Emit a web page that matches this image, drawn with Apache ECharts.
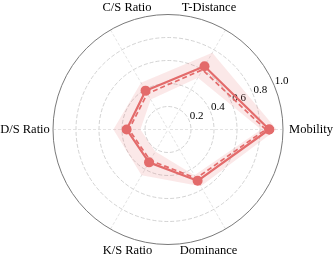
<!DOCTYPE html>
<html><head><meta charset="utf-8">
<script src="https://cdn.jsdelivr.net/npm/echarts@6/dist/echarts.min.js"></script>
<style>html,body{margin:0;padding:0;background:#fff}#c{width:333px;height:260px}</style>
</head><body><div id="c"></div>
<script>
// ---- data ----
const indicators = ['Mobility', 'T-Distance', 'C/S Ratio', 'D/S Ratio', 'K/S Ratio', 'Dominance'];
const meanValues = [0.88, 0.635, 0.39, 0.36, 0.33, 0.515];
const refValues  = [0.85, 0.60, 0.36, 0.34, 0.31, 0.49];
const bandLower  = [0.81, 0.52, 0.30, 0.24, 0.22, 0.46];
const bandUpper  = [0.945, 0.77, 0.47, 0.475, 0.46, 0.57];
const radiusTickLabels = ['', '0.2', '0.4', '0.6', '0.8', '1.0'];

// ---- layout / style ----
const FONT = 'Liberation Serif';
const RED = '#E36B6B';
const CX = 168, CY = 129.5, R = 115;
const nameStyleKey = ['n', 'tr', 'tl', 'n', 'bl', 'br'];

const n = indicators.length;
function closedLoop(vals) {
  const pts = vals.map((v, i) => [v, i * 360 / n]);
  pts.push([vals[0], 360]);
  return pts;
}
const bandDiff = bandUpper.map((u, i) => u - bandLower[i]);

const richBase = {fontFamily: FONT, fontSize: 12.5, color: '#000'};
const chart = echarts.init(document.getElementById('c'), null, {renderer: 'canvas'});
chart.setOption({
  animation: false,
  backgroundColor: '#fff',
  radar: {
    center: [CX, CY], radius: R, startAngle: 0, shape: 'circle', splitNumber: 5,
    indicator: indicators.map(name => ({name, max: 1, min: 0})),
    nameGap: 28,
    axisName: {
      color: '#000', fontFamily: FONT, fontSize: 12.5, align: 'center', verticalAlign: 'middle',
      formatter: (name) => '{' + nameStyleKey[indicators.indexOf(name)] + '|' + name + '}',
      rich: {
        n: Object.assign({}, richBase),
        tr: Object.assign({padding: [5, 61, 0, 0]}, richBase),
        tl: Object.assign({padding: [5, 0, 0, 61]}, richBase),
        bl: Object.assign({padding: [0, 0, 6, 62]}, richBase),
        br: Object.assign({padding: [0, 62, 6, 0]}, richBase)
      }
    },
    axisLine: {show: false}, splitLine: {show: false}, splitArea: {show: false},
    axisTick: {show: false}, axisLabel: {show: false}
  },
  polar: [
    {center: [CX, CY], radius: R},
    {center: [CX + 7.4, CY - 4.6], radius: R}
  ],
  angleAxis: [
    {
      polarIndex: 0, type: 'value', min: 0, max: 360, interval: 60,
      startAngle: 0, clockwise: false,
      axisLine: {show: true, lineStyle: {color: '#7a7a7a', width: 1}},
      axisTick: {show: false}, axisLabel: {show: false},
      splitLine: {show: true, lineStyle: {color: '#dcdcdc', width: 0.8, type: [3, 2]}}
    },
    {
      polarIndex: 1, type: 'value', min: 0, max: 360, startAngle: 22.5, show: false
    }
  ],
  radiusAxis: [
    {
      polarIndex: 0, type: 'value', min: 0, max: 1, interval: 0.2,
      axisLine: {show: false}, axisTick: {show: false}, axisLabel: {show: false},
      splitLine: {show: true, lineStyle: {color: ['#c8c8c8', '#c8c8c8', '#c8c8c8', '#c8c8c8', '#c8c8c8', 'rgba(0,0,0,0)'], width: 0.8, type: [4, 2]}}
    },
    {
      polarIndex: 1, type: 'value', min: 0, max: 1, interval: 0.2,
      axisLine: {show: false}, axisTick: {show: false}, splitLine: {show: false},
      axisLabel: {
        show: true, margin: 0, align: 'center', verticalAlign: 'middle',
        fontFamily: FONT, fontSize: 11, color: '#000',
        formatter: (v) => radiusTickLabels[Math.round(v / 0.2)]
      }
    }
  ],
  series: [
    {
      type: 'line', coordinateSystem: 'polar', polarIndex: 0, stack: 'band',
      data: closedLoop(bandLower), symbol: 'none', lineStyle: {opacity: 0}, silent: true
    },
    {
      type: 'line', coordinateSystem: 'polar', polarIndex: 0, stack: 'band',
      data: closedLoop(bandDiff), symbol: 'none', lineStyle: {opacity: 0},
      areaStyle: {color: 'rgba(227,107,107,0.22)'}, silent: true
    },
    {
      type: 'line', coordinateSystem: 'polar', polarIndex: 0,
      data: closedLoop(refValues), symbol: 'none',
      lineStyle: {color: RED, width: 1.7, type: [5, 3]}
    },
    {
      type: 'line', coordinateSystem: 'polar', polarIndex: 0,
      data: closedLoop(meanValues), symbol: 'circle', symbolSize: 10,
      itemStyle: {color: RED}, lineStyle: {color: RED, width: 2.2}
    }
  ]
});
</script></body></html>
